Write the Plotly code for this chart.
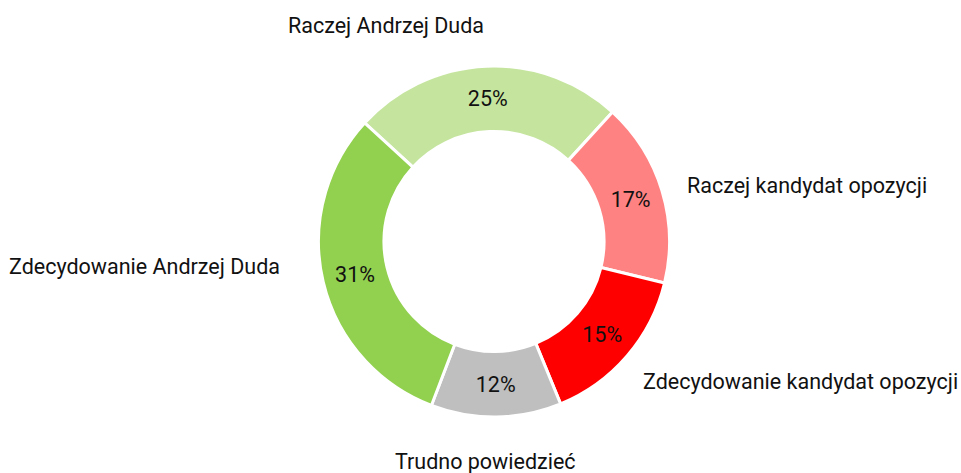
import plotly.graph_objects as go

# ---- data ----
categories = [
    "Raczej Andrzej Duda",
    "Raczej kandydat opozycji",
    "Zdecydowanie kandydat opozycji",
    "Trudno powiedzieć",
    "Zdecydowanie Andrzej Duda",
]
values = [25, 17, 15, 12, 31]
colors = ["#c5e59f", "#ff8282", "#ff0000", "#bfbfbf", "#92d050"]

# ---- layout helpers (screen pixels in the 961x473 window) ----
W, H = 961, 473
label_pos = [  # (x, y, xanchor) in screen pixels
    (386, 27, "center"),
    (687, 186, "left"),
    (958, 382, "right"),
    (485, 462, "center"),
    (280, 267, "right"),
]
cx, cy, R = 494, 241.5, 175.5
FONT = 21.5

fig = go.Figure()
fig.add_trace(go.Pie(
    labels=categories,
    values=values,
    sort=False,
    direction="clockwise",
    rotation=312.5,
    hole=0.627,
    marker=dict(colors=colors, line=dict(color="white", width=3)),
    texttemplate="%{percent:.0%}",
    textposition="inside",
    insidetextorientation="horizontal",
    textfont=dict(family="Roboto", size=FONT, color="#111111"),
    domain=dict(x=[(cx - R) / W, (cx + R) / W], y=[(H - cy - R) / H, (H - cy + R) / H]),
    showlegend=False,
    hoverinfo="label+percent",
))

for name, (px, py, anc) in zip(categories, label_pos):
    fig.add_annotation(
        x=px / W, y=1 - (py - 1) / H, xref="paper", yref="paper",
        text=name, showarrow=False, xanchor=anc, yanchor="middle",
        borderpad=0, borderwidth=0,
        font=dict(family="Roboto", size=FONT, color="#111111"),
    )

fig.update_layout(
    width=W, height=H,
    margin=dict(l=0, r=0, t=0, b=0),
    paper_bgcolor="white", plot_bgcolor="white",
    uniformtext=dict(minsize=FONT, mode="show"),
)
fig.write_html(
    "out.html",
    config={"displayModeBar": False},
    post_script="document.body.style.margin='0';document.body.style.overflow='hidden';",
)
